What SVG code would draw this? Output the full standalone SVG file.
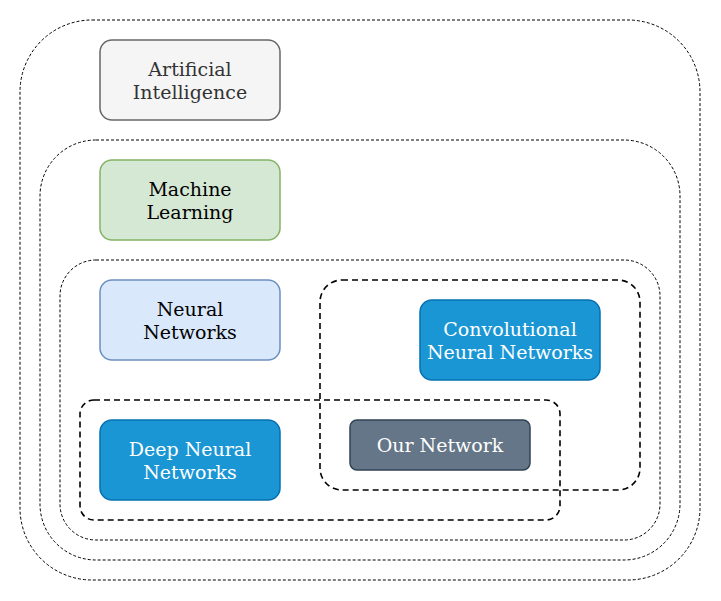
<svg xmlns="http://www.w3.org/2000/svg" width="721" height="601" viewBox="0 0 721 601">
<style>
.thin{fill:none;stroke:#000;stroke-width:1;stroke-dasharray:3 2}
.bold{fill:none;stroke:#000;stroke-width:1.6;stroke-dasharray:6 4}
text{font-family:"DejaVu Serif",serif;font-size:19px;text-anchor:middle}
.ai rect{fill:#f5f5f5;stroke:#666666;stroke-width:1.5}
.ai text{fill:#333333}
.ml rect{fill:#d5e8d4;stroke:#82b366;stroke-width:1.5}
.nn rect{fill:#dae8fc;stroke:#6c8ebf;stroke-width:1.5}
.blue rect{fill:#1a96d4;stroke:#0670b0;stroke-width:1.5}
.blue text,.our text{fill:#ffffff}
.our rect{fill:#647687;stroke:#314354;stroke-width:1.5}
</style>
<rect width="721" height="601" fill="#ffffff"/>
<g id="containers">
<rect id="c-ai" class="thin" x="20" y="20" width="680" height="560" rx="72"/>
<rect id="c-ml" class="thin" x="40" y="140" width="640" height="420" rx="56"/>
<rect id="c-nn" class="thin" x="60" y="260" width="600" height="280" rx="36"/>
<rect id="c-cnn" class="bold" x="320" y="280" width="320" height="210" rx="22"/>
<rect id="c-dnn" class="bold" x="80" y="400" width="480" height="120" rx="14"/>
</g>
<g id="connectors"></g>
<g id="ai" class="ai"><rect x="100" y="40" width="180" height="80" rx="12"/><text x="190" y="76">Artificial</text><text x="190" y="99">Intelligence</text></g>
<g id="ml" class="ml"><rect x="100" y="160" width="180" height="80" rx="12"/><text x="190" y="196">Machine</text><text x="190" y="219">Learning</text></g>
<g id="nn" class="nn"><rect x="100" y="280" width="180" height="80" rx="12"/><text x="190" y="316">Neural</text><text x="190" y="339">Networks</text></g>
<g id="cnn" class="blue"><rect x="420" y="300" width="180" height="80" rx="12"/><text x="510" y="336">Convolutional</text><text x="510" y="359">Neural Networks</text></g>
<g id="dnn" class="blue"><rect x="100" y="420" width="180" height="80" rx="12"/><text x="190" y="456">Deep Neural</text><text x="190" y="479">Networks</text></g>
<g id="our" class="our"><rect x="350" y="420" width="180" height="50" rx="7"/><text x="440" y="452">Our Network</text></g>
</svg>
